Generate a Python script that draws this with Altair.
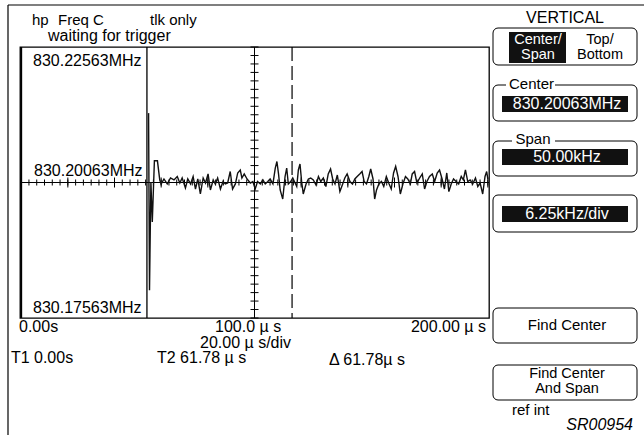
import altair as alt
import pandas as pd
import numpy as np

# ---------------- data ----------------
# time (microseconds) and frequency offset from centre (kHz)
trace_t = [54.6, 55.0, 55.6, 56.2, 57.1, 58.4, 59.4,
           60.0, 61.2, 62.6, 64.0, 65.5, 66.9, 68.0, 69.0, 70.4, 71.4,
           72.6, 73.7, 74.7, 75.7, 76.8, 78.0, 79.0, 80.1, 81.1, 82.3,
           83.2, 84.2, 85.4, 86.5, 87.5, 88.5, 89.6, 90.6, 91.8, 92.8,
           93.9, 94.6, 95.6, 96.8, 98.2, 99.3, 100.3, 101.3, 102.5, 103.6,
           104.6, 105.7, 106.7, 107.9, 108.9, 109.6, 110.3, 111.0, 112.1, 113.1,
           113.8, 114.5, 115.5, 116.4, 117.1, 118.1, 118.8, 119.5, 120.2, 120.9,
           122.1, 123.1, 124.1,
           125.2, 126.4, 127.4, 128.4, 129.5, 130.6, 131.6, 132.6, 133.5, 134.5,
           135.5, 136.6, 137.8, 138.7, 139.7, 140.9, 142.0, 143.0, 144.0, 145.1,
           146.1, 147.0, 148.0, 149.0, 149.8, 150.8, 151.5, 152.3, 153.3, 154.4,
           155.4, 156.5, 157.7, 158.6, 159.6, 160.5, 161.5, 162.5, 163.6, 164.7,
           165.7, 166.8, 167.6, 168.6, 169.6, 170.8, 171.9, 172.9, 173.9, 175.0,
           176.2, 177.2, 178.3, 179.3, 180.4, 181.4, 182.4, 183.3, 184.3, 185.3,
           186.4, 187.5, 188.6, 189.5, 190.4, 191.4, 192.4, 193.5, 194.7, 195.7,
           196.7, 197.8, 198.8, 199.5, 200.0]
trace_f = [12.8, -19.9, 0.1, -7.3, 4.0, 4.0, 0.46,
           -0.27, 0.65, -0.27, 0.83, 0.47, 1.11, -0.09, 0.83, -1.02, 0.65,
           -0.27, 1.11, -1.20, 0.65, -2.12, 0.83, -0.09, 1.58, -1.38, 0.47,
           -0.27, 0.83, -1.20, 0.18, -0.27, -0.09, 2.03, -1.20, -0.27, 1.76,
           2.31, 0.83, 1.58, 0.65, -0.09, 0.18, -1.20, 0.18, -0.27, 0.47,
           -0.27, 0.18, 0.65, -0.27, 2.67, 3.87, 1.58, -1.38, -3.05, 1.11,
           2.67, -0.27, 0.18, 0.83, 0.18, -0.74, 2.31, 3.42, 0.18, -2.12,
           -0.27, 0.65, 0.83,
           0.47, -0.47, 1.11, 0.18, 0.83, -0.74, 1.58, 2.49, 0.65, -0.27,
           1.38, -1.67, -0.27, 0.83, 1.58, 0.18, -0.27, 0.65, 1.11, 1.58,
           2.03, 0.18, -0.27, 1.11, 2.49, 0.65, -3.05, -1.38, -0.27, 0.18,
           -0.74, 1.11, -0.27, -1.20, 1.76, 2.96, 1.11, -2.12, -0.27, 1.11,
           0.65, -0.27, 1.58, 2.03, -0.09, 0.83, 1.58, -1.20, 0.18, 1.11,
           1.58, 0.18, 1.76, 2.31, 0.65, -1.20, 1.76, -1.67, -0.27, 0.65,
           0.18, -0.27, 1.11, 0.47, 2.31, 0.18, 0.47, -0.27, 0.83, -0.74,
           -0.09, -2.12, 1.11, 2.03, 0.65]

t_domain = [-0.5, 200.5]
f_domain = [-25.0, 25.0]
t1_t = 0.0
box_edge_t = 53.9
cursor_t = 116.1
cross_t = 100.0
minor_ticks_t = list(np.arange(0, 200.01, 20.0 / 6))
major_ticks_t = [0, 20, 40, 60, 80, 100, 120, 140, 160, 180, 200]
vticks_f = list(np.arange(-25.0, 25.01, 6.25 / 4))

labels_freq = ["830.22563MHz", "830.20063MHz", "830.17563MHz"]
labels_time = ["0.00s", "100.0 µ s", "200.00 µ s", "20.00 µ s/div"]

# ---------------- layout ----------------
FONT = "Liberation Sans"
X0, Y0 = 20, 47          # page position of plot area
W, H = 469, 271          # plot area size
PAGE_W, PAGE_H = 644, 435


def px(x):
    return x - X0


def py(y):
    return y - Y0


dummy = pd.DataFrame({"k": [0]})
xs = alt.Scale(domain=t_domain, nice=False, zero=False)
ys = alt.Scale(domain=f_domain, nice=False, zero=False)


def text(s, x, y, align="left", color="black", size=15, style="normal"):
    return alt.Chart(dummy).mark_text(
        text=s, align=align, baseline="middle", font=FONT, fontSize=size,
        color=color, fontStyle=style
    ).encode(x=alt.value(px(x)), y=alt.value(py(y)))


def box(x1, y1, x2, y2, fill="white", stroke="black", radius=0, sw=1.0):
    kw = dict(fill=fill, cornerRadius=radius)
    if stroke:
        kw["stroke"] = stroke
        kw["strokeWidth"] = sw
    return alt.Chart(dummy).mark_rect(**kw).encode(
        x=alt.value(px(x1)), x2=alt.value(px(x2)),
        y=alt.value(py(y1)), y2=alt.value(py(y2)))


def seg(x1, y1, x2, y2, sw=1.0):
    return alt.Chart(dummy).mark_rule(color="black", strokeWidth=sw).encode(
        x=alt.value(px(x1)), x2=alt.value(px(x2)),
        y=alt.value(py(y1)), y2=alt.value(py(y2)))


def vrule_t(t, sw=1.0, dash=None):
    kw = dict(color="black", strokeWidth=sw)
    if dash:
        kw["strokeDash"] = dash
    return alt.Chart(pd.DataFrame({"t": [t]})).mark_rule(**kw).encode(
        x=alt.X("t:Q", scale=xs, axis=None))


layers = []
# outer frame
layers.append(seg(8, 5, PAGE_W, 5, 1.2))
layers.append(seg(8, 5, 8, PAGE_H, 1.2))

# plot internals
layers.append(vrule_t(t1_t, 2.0))
layers.append(vrule_t(box_edge_t, 1.3))
layers.append(vrule_t(cursor_t, 1.2, [14, 5]))
layers.append(vrule_t(cross_t, 1.0))
layers.append(alt.Chart(pd.DataFrame({"f": [0.0]})).mark_rule(color="black", strokeWidth=1.2).encode(
    y=alt.Y("f:Q", scale=ys, axis=None)))
layers.append(alt.Chart(pd.DataFrame({"t": minor_ticks_t, "f": 0.0})).mark_tick(
    orient="vertical", size=6, thickness=1, color="black", opacity=1).encode(
    x=alt.X("t:Q", scale=xs, axis=None), y=alt.Y("f:Q", scale=ys, axis=None)))
layers.append(alt.Chart(pd.DataFrame({"t": major_ticks_t, "f": 0.0})).mark_tick(
    orient="vertical", size=10, thickness=1, color="black", opacity=1).encode(
    x=alt.X("t:Q", scale=xs, axis=None), y=alt.Y("f:Q", scale=ys, axis=None)))
layers.append(alt.Chart(pd.DataFrame({"t": cross_t, "f": vticks_f})).mark_tick(
    orient="horizontal", size=8, thickness=1, color="black", opacity=1).encode(
    x=alt.X("t:Q", scale=xs, axis=None), y=alt.Y("f:Q", scale=ys, axis=None)))

# trace
trace = pd.DataFrame({"t": trace_t, "f": trace_f})
layers.append(alt.Chart(trace).mark_line(color="#111111", strokeWidth=1.4).encode(
    x=alt.X("t:Q", scale=xs, axis=None), y=alt.Y("f:Q", scale=ys, axis=None)))

# header texts
layers.append(text("hp", 32, 20))
layers.append(text("Freq C", 58, 20))
layers.append(text("tlk only", 150, 20))
layers.append(text("waiting for trigger", 48, 36, size=16))

# frequency labels in plot
layers.append(text(labels_freq[0], 33, 61, size=16))
layers.append(text(labels_freq[1], 34, 171, size=16))
layers.append(text(labels_freq[2], 33, 308, size=16))

# time labels
layers.append(text(labels_time[0], 19, 327, size=16))
layers.append(text(labels_time[1], 215, 327, size=16))
layers.append(text(labels_time[2], 486, 327, align="right", size=16))
layers.append(text(labels_time[3], 200, 343, size=16))
layers.append(text("T1", 11, 358, size=16))
layers.append(text("0.00s", 34, 358, size=16))
layers.append(text("T2 61.78 µ s", 157, 358, size=16))
layers.append(text("Δ 61.78µ s", 329, 360, size=16))

# right panel
layers.append(text("VERTICAL", 565, 18, align="center", size=16))
layers.append(box(493, 28, 637, 65, radius=5))
layers.append(box(509, 32, 566, 63, fill="#111111", stroke=None))
layers.append(text("Center/", 538, 40, align="center", color="white", size=14.5))
layers.append(text("Span", 538, 55, align="center", color="white", size=14.5))
layers.append(text("Top/", 600, 40, align="center", size=14.5))
layers.append(text("Bottom", 600, 55, align="center", size=14.5))

layers.append(box(493, 85, 637, 121, radius=5))
layers.append(box(506, 79, 555, 91, stroke=None))
layers.append(text("Center", 509, 84))
layers.append(box(502, 96, 628, 112, fill="#111111", stroke=None))
layers.append(text("830.20063MHz", 567, 104, align="center", color="white", size=16))

layers.append(box(493, 141, 637, 176, radius=5))
layers.append(box(512, 135, 555, 147, stroke=None))
layers.append(text("Span", 533, 139, align="center"))
layers.append(box(502, 149, 628, 165, fill="#111111", stroke=None))
layers.append(text("50.00kHz", 567, 157, align="center", color="white", size=16))

layers.append(box(493, 195, 637, 232, radius=5))
layers.append(box(502, 206, 628, 222, fill="#111111", stroke=None))
layers.append(text("6.25kHz/div", 567, 214, align="center", color="white", size=16))

layers.append(box(493, 308, 637, 343, radius=5))
layers.append(text("Find Center", 567, 325, align="center"))

layers.append(box(493, 365, 637, 400, radius=5))
layers.append(text("Find Center", 567, 374, align="center", size=14.5))
layers.append(text("And Span", 567, 389, align="center", size=14.5))

layers.append(text("ref int", 512, 410))
layers.append(text("SR00954", 633, 425, align="right", style="italic", size=16))

chart = alt.layer(*layers).properties(
    width=W, height=H,
    autosize=alt.AutoSizeParams(type="none"),
    padding={"left": X0, "top": Y0, "right": PAGE_W - X0 - W, "bottom": PAGE_H - Y0 - H},
    background="white",
).configure_view(stroke="black", strokeWidth=1.3)

chart.save("out.html", embed_options={"renderer": "svg", "actions": False})
